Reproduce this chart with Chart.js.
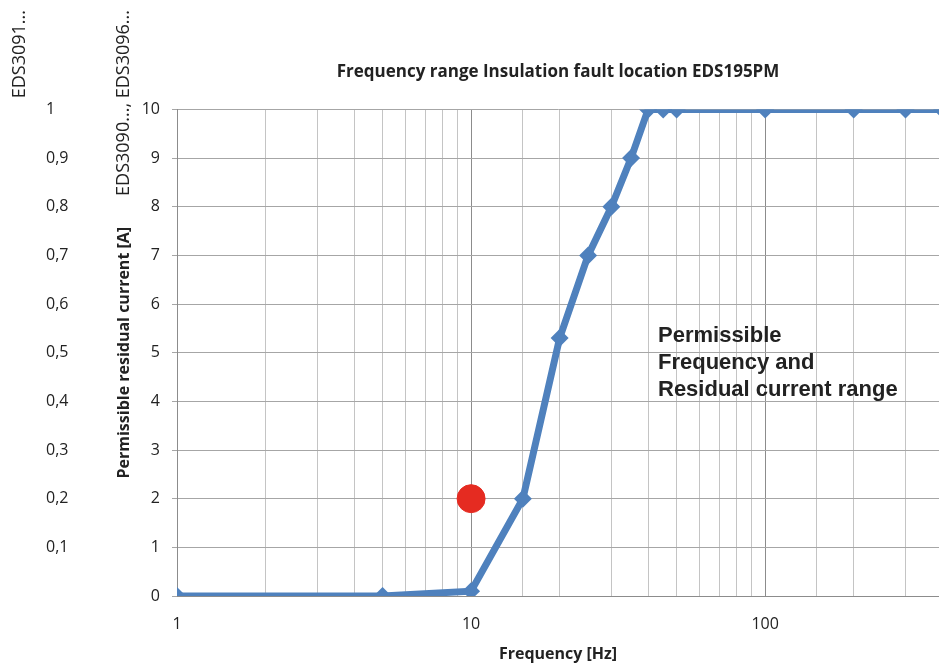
<!DOCTYPE html>
<html>
<head>
<meta charset="utf-8">
<script src="https://cdn.jsdelivr.net/npm/chart.js@4"></script>
<style>
    body { margin: 0; background: #fff; }
    canvas { display: block; }
</style>
</head>
<body>
<canvas id="freqChart" width="939" height="666"></canvas>
<script>
// Dữ liệu biểu đồ
const frequencies = [1, 5, 10, 15, 20, 25, 30, 35, 40, 45, 50, 100, 200, 300, 400]
const currents = [0, 0, 0.1, 2, 5.3, 7, 8, 9, 10, 10, 10, 10, 10, 10, 10]
const markerPoint = [{ x: 10, y: 2 }]
const xTickLabels = [1, 10, 100]
const leftTicks = [0.1, 0.2, 0.3, 0.4, 0.5, 0.6, 0.7, 0.8, 0.9, 1]
const noteLines = ['Permissible', 'Frequency and', 'Residual current range']
const sideTitles = ['EDS3091...', 'EDS3090..., EDS3096...']

const textColor = '#222'
const tickFont = { family: 'Open Sans', size: 16 }
const axisTitleFont = { family: 'Open Sans', size: 16, weight: 'bold' }

// Ghi chú và tiêu đề xoay bên trái
const textPlugin = {
    id: 'textPlugin',
    afterDatasetsDraw(chart) {
        const ctx = chart.ctx
        const area = chart.chartArea
        ctx.save()
        ctx.fillStyle = textColor
        ctx.font = 'bold 22px "Liberation Sans"'
        ctx.textAlign = 'left'
        ctx.textBaseline = 'middle'
        noteLines.forEach((line, i) => {
            ctx.fillText(line, area.left + 481, area.top + 227 + i * 27)
        })
        ctx.restore()

        const xs = [20, 124]
        sideTitles.forEach((t, i) => {
            ctx.save()
            ctx.translate(xs[i], 10)
            ctx.rotate(-Math.PI / 2)
            ctx.fillStyle = textColor
            ctx.font = '18px "Open Sans"'
            ctx.textAlign = 'right'
            ctx.textBaseline = 'middle'
            ctx.fillText(t, 0, 0)
            ctx.restore()
        })
    }
}

const chartData = {
    datasets: [
        {
            type: 'line',
            data: frequencies.map((f, i) => ({ x: f, y: currents[i] })),
            borderColor: '#4f81bd',
            backgroundColor: '#4f81bd',
            borderWidth: 7,
            pointStyle: 'rectRot',
            pointRadius: 9,
            pointBorderWidth: 0,
            tension: 0,
            order: 1
        },
        {
            type: 'scatter',
            data: markerPoint,
            backgroundColor: '#e52b21',
            borderColor: '#e52b21',
            pointRadius: 14,
            order: 2
        }
    ]
}

const chartConfig = {
    type: 'line',
    data: chartData,
    options: {
        responsive: false,
        animation: false,
        layout: { autoPadding: false, padding: { left: 46, right: 0, top: 0, bottom: 0 } },
        plugins: {
            legend: { display: false },
            tooltip: { enabled: false },
            title: {
                display: true,
                fullSize: false,
                text: 'Frequency range Insulation fault location EDS195PM',
                color: textColor,
                font: { family: 'Open Sans', size: 17, weight: 'bold' },
                padding: { top: 62, bottom: 27 }
            }
        },
        scales: {
            x: {
                type: 'logarithmic',
                min: 1,
                max: 390,
                grid: {
                    drawTicks: false,
                    color: ctx => {
                        const v = ctx.tick ? ctx.tick.value : 0
                        return xTickLabels.includes(v) ? '#8c8c8c' : '#c4c4c4'
                    }
                },
                border: { color: '#8c8c8c' },
                ticks: {
                    autoSkip: false,
                    maxRotation: 0,
                    padding: 19,
                    color: textColor,
                    font: tickFont,
                    callback: v => xTickLabels.includes(v) ? String(v) : ''
                },
                title: {
                    display: true,
                    text: 'Frequency [Hz]',
                    color: textColor,
                    font: axisTitleFont,
                    padding: { top: 0, bottom: 2 }
                },
                afterFit: scale => {
                    scale.height = 70
                    // bỏ khoảng đệm ngang do padding của nhãn
                    scale.paddingLeft = 0
                    scale.paddingRight = 0
                }
            },
            y: {
                position: 'left',
                weight: 0,
                min: 0,
                max: 10,
                grid: { color: '#a6a6a6', tickLength: 5 },
                border: { color: '#8c8c8c' },
                ticks: {
                    stepSize: 1,
                    padding: 12,
                    color: textColor,
                    font: tickFont
                },
                title: {
                    display: true,
                    text: 'Permissible residual current [A]',
                    color: textColor,
                    font: axisTitleFont,
                    padding: { top: 15, bottom: 0 }
                },
                afterFit: scale => { scale.width = 77 }
            },
            y2: {
                position: 'left',
                weight: 1,
                min: 0,
                max: 1,
                grid: { display: false, drawTicks: false },
                border: { display: false },
                afterBuildTicks: scale => {
                    scale.ticks = [0].concat(leftTicks).map(v => ({ value: v }))
                },
                ticks: {
                    crossAlign: 'far',
                    padding: 0,
                    color: textColor,
                    font: tickFont,
                    callback: v => v === 0 ? '' : String(Math.round(v * 10) / 10).replace('.', ',')
                },
                afterFit: scale => { scale.width = 54 }
            }
        }
    },
    plugins: [textPlugin]
}

new Chart(
    document.getElementById('freqChart'),
    chartConfig
)
</script>
</body>
</html>
